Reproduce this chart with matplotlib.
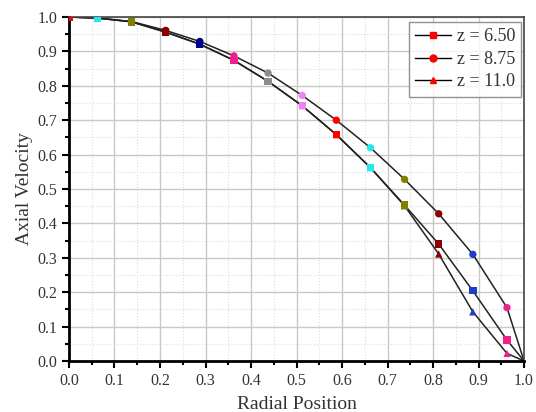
import numpy as np
from matplotlib import pyplot as plt
from matplotlib.lines import Line2D
from matplotlib.ticker import MultipleLocator

plt.rcParams['font.family'] = ['Liberation Serif', 'DejaVu Serif']

# Radial stations (normalised) and axial velocity at three axial positions
r = [0.0, 0.0625, 0.1375, 0.2125, 0.2875, 0.3625, 0.4375, 0.5125,
     0.5875, 0.6625, 0.7375, 0.8125, 0.8875, 0.9625, 1.0]
u_650 = [1.0, 0.997, 0.986, 0.956, 0.921, 0.874, 0.813, 0.742,
         0.658, 0.562, 0.453, 0.340, 0.204, 0.061, 0.0]
u_875 = [1.0, 0.997, 0.987, 0.961, 0.929, 0.887, 0.837, 0.772,
         0.700, 0.620, 0.528, 0.428, 0.310, 0.155, 0.0]
u_110 = [1.0, 0.997, 0.986, 0.956, 0.921, 0.874, 0.813, 0.742,
         0.658, 0.562, 0.451, 0.311, 0.143, 0.022, 0.0]

labels = ['z = 6.50', 'z = 8.75', 'z = 11.0']
markers = ['s', 'o', '^']

# one colour per radial station (last station at the wall has no marker)
pt_colors = ['#FF0000', '#22E8F0', '#808000', '#8B0000', '#00008B',
             '#F0208A', '#8C8C8C', '#EE82EE', '#FF0000', '#22E8F0',
             '#808000', '#8B0000', '#1E3CC8', '#F0208A']

fig = plt.figure(figsize=(5.36, 4.12), dpi=100)
ax = fig.add_axes([0.1287, 0.1238, 0.849, 0.8349])

for u, m in zip([u_650, u_875, u_110], markers):
    ax.plot(r, u, color='#222222', lw=1.1, zorder=2)
    ax.scatter(r[:-1], u[:-1], c=pt_colors, marker=m, s=28,
               edgecolors='none', zorder=3)

ax.set_xlim(0, 1.0)
ax.set_ylim(0, 1.0)
ax.xaxis.set_major_locator(MultipleLocator(0.1))
ax.xaxis.set_minor_locator(MultipleLocator(0.05))
ax.yaxis.set_major_locator(MultipleLocator(0.1))
ax.yaxis.set_minor_locator(MultipleLocator(0.05))
ax.xaxis.set_major_formatter(lambda v, p: f'{v:.1f}')
ax.yaxis.set_major_formatter(lambda v, p: f'{v:.1f}')

ax.grid(which='major', color='#c8c8c8', lw=1.0, zorder=0)
ax.grid(which='minor', color='#dcdcdc', lw=0.8, ls=':', zorder=0)
ax.set_axisbelow(True)

ax.tick_params(which='major', direction='out', length=5, width=1.5,
               labelsize=11.5, colors='black', labelcolor='#333333')
ax.tick_params(which='minor', direction='out', length=3, width=1.5)
for side in ['left', 'bottom']:
    ax.spines[side].set_linewidth(2)
    ax.spines[side].set_color('black')
for side in ['top', 'right']:
    ax.spines[side].set_linewidth(1.2)
    ax.spines[side].set_color('#444444')

ax.set_xlabel('Radial Position', fontsize=14, color='#333333', labelpad=5)
ax.set_ylabel('Axial Velocity', fontsize=14, color='#333333', labelpad=3)

handles = [Line2D([0], [0], color='black', lw=1.0, marker=m,
                  markerfacecolor='#FF0000', markeredgecolor='#FF0000',
                  markersize=5) for m in markers]
leg = ax.legend(handles, labels, loc='upper right', fontsize=13,
                frameon=True, fancybox=False, handlelength=2.0,
                handletextpad=0.3, borderpad=0.35, labelspacing=0.3,
                borderaxespad=0, bbox_to_anchor=(0.994, 0.985))
leg.get_frame().set_edgecolor('#777777')
leg.get_frame().set_linewidth(1.0)
for t in leg.get_texts():
    t.set_color('#333333')

fig.savefig('out.png', dpi=100)
